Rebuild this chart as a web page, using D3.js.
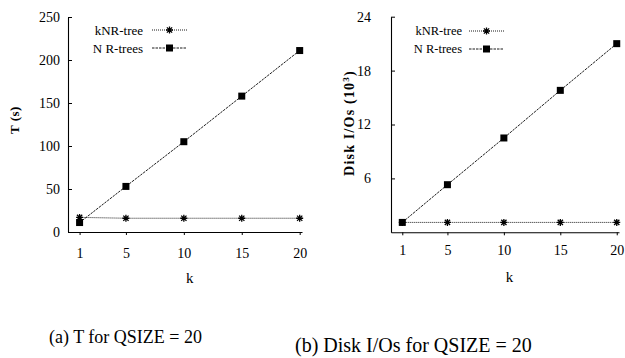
<!DOCTYPE html>
<html>
<head>
<meta charset="utf-8">
<script src="https://cdn.jsdelivr.net/npm/d3@7"></script>
<style>
  body { margin: 0; background: #fff; }
  svg text { font-family: "Liberation Serif", "Times New Roman", serif; fill: #000; }
</style>
</head>
<body>
<script>
// values
let kValues = [1, 5, 10, 15, 20];
let seriesNames = ["kNR-tree", "N R-trees"];
let timeKnr = [17, 16, 16, 16, 16];
let timeNr = [11, 53, 105, 158, 211];
let ioKnr = [1.1, 1.1, 1.1, 1.1, 1.1];
let ioNr = [1.1, 5.3, 10.5, 15.8, 21];
let timeTicks = [0, 50, 100, 150, 200, 250];
let ioTicks = [6, 12, 18, 24];
let captions = ["(a) T for QSIZE = 20", "(b) Disk I/Os for QSIZE = 20"];

let width = 625, height = 358;
let svg = d3.select("body").append("svg")
  .attr("width", width).attr("height", height);

function starPath(r) {
  let d = r * 0.75;
  return "M" + (-d) + "," + (-d) + "L" + d + "," + d +
         "M" + (-d) + "," + d + "L" + d + "," + (-d) +
         "M0," + (-r) + "L0," + r +
         "M" + (-r) + ",0L" + r + ",0";
}

function panel(p) {
  let g = svg.append("g");
  let x = d3.scaleLinear().domain([0, 20.2]).range([p.left, p.right]);
  let y = d3.scaleLinear().domain([0, p.ymax]).range([p.bottom, p.top]);

  // axes
  let xAxis = d3.axisBottom(x).tickValues(kValues).tickSize(3).tickSizeOuter(0);
  let gx = g.append("g").attr("transform", "translate(0," + p.bottom + ")").call(xAxis);
  gx.selectAll("text").style("font-size", p.xFont + "px").attr("dy", 0).attr("y", p.xLabelY);

  let yAxis = d3.axisLeft(y).tickValues(p.yTicks).tickSize(-4).tickSizeOuter(0).tickPadding(p.yPad);
  let gy = g.append("g").attr("transform", "translate(" + p.left + ",0)").call(yAxis);
  gy.selectAll("text").style("font-size", p.yFont + "px");
  g.selectAll(".domain").attr("stroke", "#000").attr("stroke-width", 1.1);
  g.selectAll(".tick line").attr("stroke", "#000");

  // axis titles
  g.append("text")
    .attr("x", (x(1) + x(20)) / 2).attr("y", p.kY)
    .attr("text-anchor", "middle").style("font-size", "15px").text("k");
  let yt = g.append("text")
    .attr("transform", "translate(" + p.yTitleX + "," + p.yTitleY + ") rotate(-90)")
    .attr("text-anchor", "middle")
    .style("font-size", p.yTitleFont + "px").style("font-weight", "bold")
    .style("letter-spacing", p.yTitleSpacing + "px");
  yt.append("tspan").text(p.yTitle);
  if (p.sup) {
    yt.append("tspan").attr("dy", -5).style("font-size", "9px").text(p.sup);
    yt.append("tspan").attr("dy", 5).text(")");
  }

  let line = d3.line().x(function(d, i) { return x(kValues[i]); }).y(function(d) { return y(d); });

  // N R-trees
  g.append("path").datum(p.nr).attr("d", line)
    .attr("fill", "none").attr("stroke", "#000").attr("stroke-width", 0.9)
    .attr("stroke-dasharray", "2.5,1");
  g.selectAll(".sq").data(p.nr).enter().append("rect")
    .attr("x", function(d, i) { return x(kValues[i]) - 3.5; })
    .attr("y", function(d) { return y(d) - 3.5; })
    .attr("width", 7).attr("height", 7).attr("fill", "#000");

  // kNR-tree
  g.append("path").datum(p.knr).attr("d", line)
    .attr("fill", "none").attr("stroke", "#000").attr("stroke-width", 0.9)
    .attr("stroke-dasharray", "1,1");
  g.selectAll(".st").data(p.knr).enter().append("path")
    .attr("transform", function(d, i) { return "translate(" + x(kValues[i]) + "," + y(d) + ")"; })
    .attr("d", starPath(3.5)).attr("stroke", "#000").attr("stroke-width", 1.3).attr("fill", "none");

  // legend
  let leg = g.append("g");
  seriesNames.forEach(function(name, i) {
    let ly = p.legY + i * p.legStep;
    leg.append("text").attr("x", p.legText).attr("y", ly).attr("dy", "0.35em")
      .attr("text-anchor", "end").style("font-size", p.legFont + "px").text(name);
    leg.append("line").attr("x1", p.legX1).attr("x2", p.legX2).attr("y1", ly).attr("y2", ly)
      .attr("stroke", "#000").attr("stroke-width", 0.9)
      .attr("stroke-dasharray", i == 0 ? "1,1" : "2.5,1");
    let mx = (p.legX1 + p.legX2) / 2;
    if (i == 0) {
      leg.append("path").attr("transform", "translate(" + mx + "," + ly + ")")
        .attr("d", starPath(3.5)).attr("stroke", "#000").attr("stroke-width", 1.3);
    } else {
      leg.append("rect").attr("x", mx - 3.5).attr("y", ly - 3.5)
        .attr("width", 7).attr("height", 7).attr("fill", "#000");
    }
  });

  svg.append("text").attr("x", p.capX).attr("y", p.capY)
    .style("font-size", p.capFont + "px").text(p.caption);
}

panel({
  left: 68, right: 302, top: 17, bottom: 232, ymax: 250,
  yTicks: timeTicks, knr: timeKnr, nr: timeNr,
  xFont: 14, yFont: 14, yPad: 8, xLabelY: 26, kY: 283,
  yTitle: "T (s)", sup: null, yTitleX: 19, yTitleY: 120, yTitleFont: 13, yTitleSpacing: 0.5,
  legY: 30, legStep: 18, legText: 143, legX1: 152, legX2: 187, legFont: 13,
  caption: captions[0], capX: 49, capY: 343, capFont: 18
});

panel({
  left: 391, right: 619, top: 16.7, bottom: 232.3, ymax: 24,
  yTicks: ioTicks, knr: ioKnr, nr: ioNr,
  xFont: 14, yFont: 14, yPad: 20, xLabelY: 23, kY: 282,
  yTitle: "Disk I/Os (10", sup: "3", yTitleX: 354, yTitleY: 123, yTitleFont: 14, yTitleSpacing: 1.2,
  legY: 31, legStep: 18, legText: 462, legX1: 469, legX2: 504, legFont: 12.5,
  caption: captions[1], capX: 295, capY: 352, capFont: 20
});
</script>
</body>
</html>
